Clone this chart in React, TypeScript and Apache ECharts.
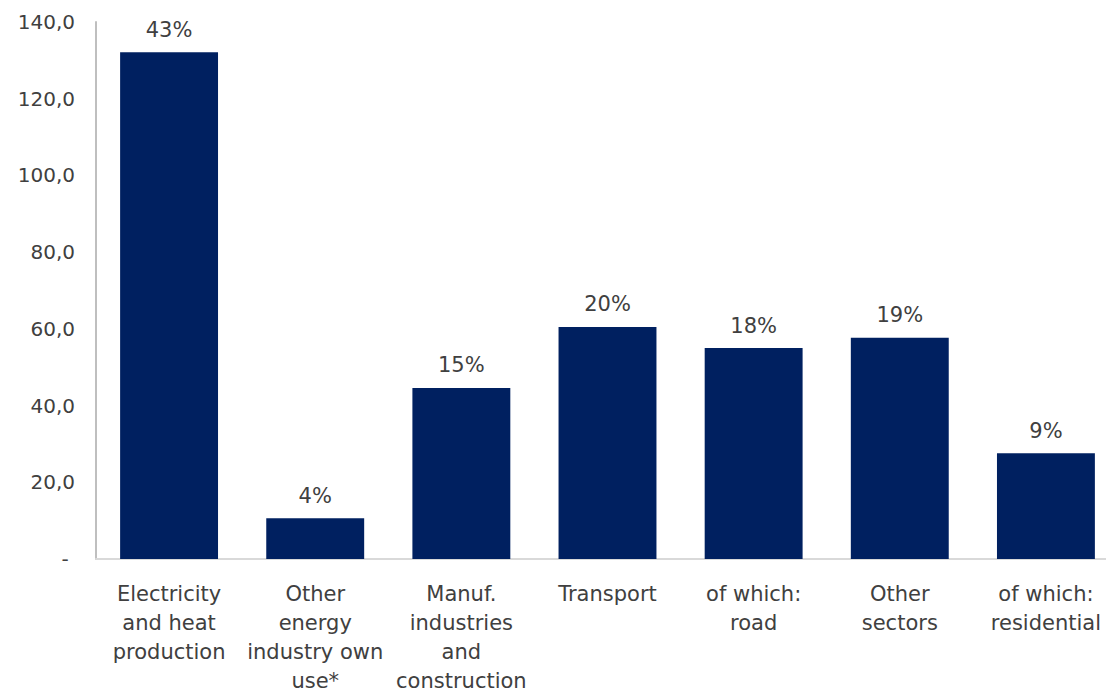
import React, { useEffect, useRef } from "react";
import * as echarts from "echarts";

const categories = [
  "Electricity\nand heat\nproduction",
  "Other\nenergy\nindustry own\nuse*",
  "Manuf.\nindustries\nand\nconstruction",
  "Transport",
  "of which:\nroad",
  "Other\nsectors",
  "of which:\nresidential",
];
const values = [132.1, 10.6, 44.6, 60.5, 55.0, 57.7, 27.6];
const shareLabels = ["43%", "4%", "15%", "20%", "18%", "19%", "9%"];

const FONT = "'DejaVu Sans', sans-serif";
const TEXT = "#404040";

export default function App() {
  const ref = useRef<HTMLDivElement>(null);
  useEffect(() => {
    if (!ref.current) return;
    const chart = echarts.init(ref.current, undefined, { renderer: "svg" });
    chart.setOption({
      animation: false,
      backgroundColor: "#ffffff",
      grid: {
        left: 96,
        width: 1023,
        top: 22,
        height: 537,
        containLabel: false,
        outerBoundsMode: "none",
      },
      xAxis: {
        type: "category",
        data: categories,
        axisLine: { show: true, lineStyle: { color: "#d9d9d9", width: 2 } },
        axisTick: { show: false },
        axisLabel: {
          interval: 0,
          color: TEXT,
          fontFamily: FONT,
          fontSize: 21,
          lineHeight: 29,
          margin: 20,
          verticalAlign: "top",
        },
      },
      yAxis: {
        type: "value",
        min: 0,
        max: 140,
        interval: 20,
        splitLine: { show: false },
        axisLine: { show: true, lineStyle: { color: "#bfbfbf", width: 2 } },
        axisTick: { show: false },
        axisLabel: {
          color: TEXT,
          fontFamily: FONT,
          fontSize: 20,
          margin: 21,
          formatter: (v: number) =>
            v === 0 ? "- " : v.toFixed(1).replace(".", ","),
        },
      },
      series: [
        {
          type: "bar",
          data: values,
          barWidth: "67%",
          itemStyle: { color: "#002060" },
          label: {
            show: true,
            position: "top",
            distance: 12,
            color: TEXT,
            fontFamily: FONT,
            fontSize: 21,
            formatter: (p: any) => shareLabels[p.dataIndex],
          },
        },
      ],
    });
    return () => chart.dispose();
  }, []);
  return (
    <div
      ref={ref}
      style={{ position: "fixed", left: 0, top: 0, width: 1106, height: 692 }}
    />
  );
}
